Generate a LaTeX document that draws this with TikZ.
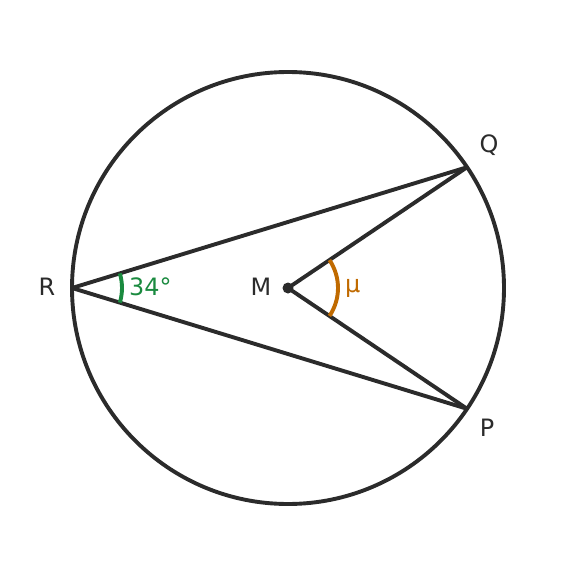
\documentclass[tikz,border=0pt]{standalone}
\usepackage{fontspec}
\setmainfont{DejaVu Sans}
\usetikzlibrary{calc}
\definecolor{ink}{HTML}{2B2B2B}
\definecolor{angG}{HTML}{1A8A3F}
\definecolor{angO}{HTML}{C06A00}
\begin{document}
\begin{tikzpicture}[x=1bp,y=-1bp,
  seg/.style={draw=ink,line width=3.9bp},
  lbl/.style={font=\fontsize{24}{27}\selectfont,text=ink,inner sep=0pt}]
\useasboundingbox (0,0) rectangle (576,576);
\coordinate (M) at (288,288);
\coordinate (R) at ($(M)+(180:216)$);
\coordinate (Q) at ($(M)+(34:216)$);
\coordinate (P) at ($(M)+(-34:216)$);
\draw[seg] (M) circle[radius=216];
\draw[seg,line join=round] (Q) -- (R) -- (P);
\draw[seg,line join=round] (Q) -- (M) -- (P);
\draw[draw=angG,line width=3.9bp] ($(R)+(-17:50)$) arc[start angle=-17,end angle=17,radius=50];
\draw[draw=angO,line width=3.9bp] ($(M)+(-34:50)$) arc[start angle=-34,end angle=34,radius=50];
\fill[ink] (M) circle[radius=5.5];
\node[lbl] (lR) at (47,287) {R};
\node[lbl] (lM) at (261,287) {M};
\node[lbl] (lQ) at (489,145) {Q};
\node[lbl] (lP) at (487,428) {P};
\node[lbl,text=angG,anchor=west] (lA) at (129,287) {34°};
\node[lbl,text=angO,anchor=west] (lB) at (345,288) {μ};
\end{tikzpicture}
\end{document}
